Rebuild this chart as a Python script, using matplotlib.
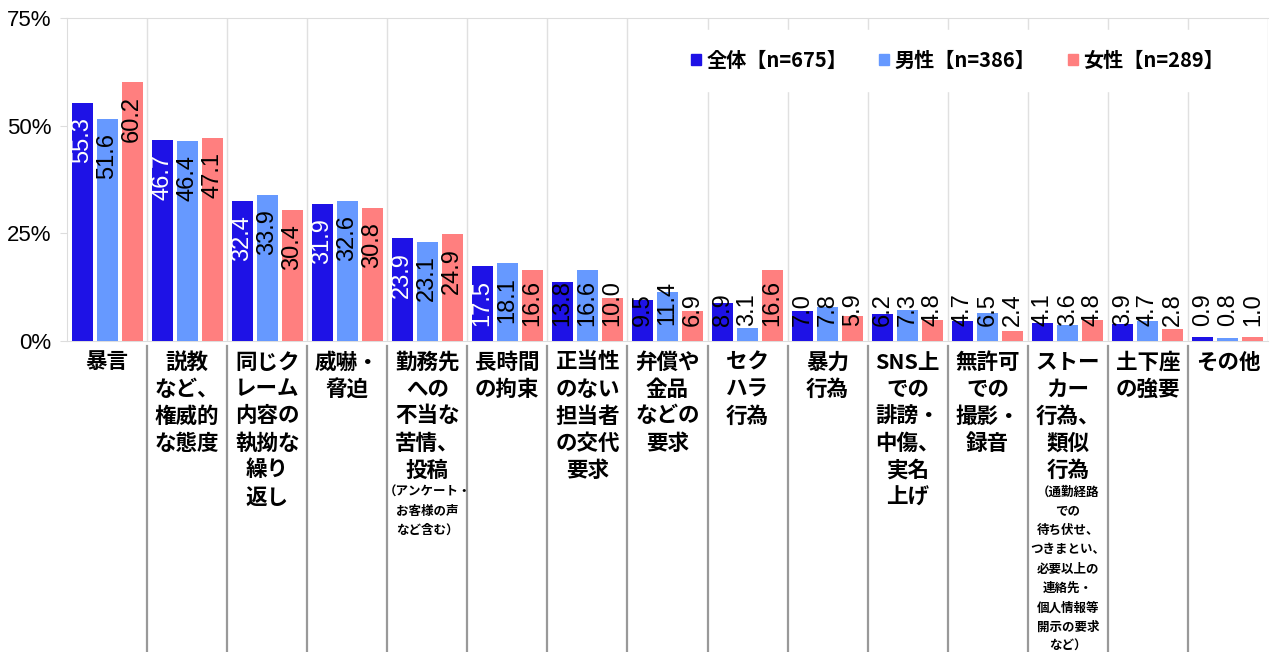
import matplotlib.pyplot as plt
import matplotlib.transforms as mtransforms
from matplotlib.patches import Patch
import numpy as np

# データ（%）
categories = ["暴言", "説教など、権威的な態度", "同じクレーム内容の執拗な繰り返し", "威嚇・脅迫",
              "勤務先への不当な苦情、投稿", "長時間の拘束", "正当性のない担当者の交代要求",
              "弁償や金品などの要求", "セクハラ行為", "暴力行為", "SNS上での誹謗・中傷、実名上げ",
              "無許可での撮影・録音", "ストーカー行為、類似行為", "土下座の強要", "その他"]
label_lines = [
    ["暴言"],
    ["説教", "など、", "権威的", "な態度"],
    ["同じク", "レーム", "内容の", "執拗な", "繰り", "返し"],
    ["威嚇・", "脅迫"],
    ["勤務先", "への", "不当な", "苦情、", "投稿"],
    ["長時間", "の拘束"],
    ["正当性", "のない", "担当者", "の交代", "要求"],
    ["弁償や", "金品", "などの", "要求"],
    ["セク", "ハラ", "行為"],
    ["暴力", "行為"],
    ["SNS上", "での", "誹謗・", "中傷、", "実名", "上げ"],
    ["無許可", "での", "撮影・", "録音"],
    ["ストー", "カー", "行為、", "類似", "行為"],
    ["土下座", "の強要"],
    ["その他"],
]
note_lines = {
    4: ["（アンケート・", "お客様の声", "など含む）"],
    12: ["（通勤経路", "での", "待ち伏せ、", "つきまとい、", "必要以上の", "連絡先・",
         "個人情報等", "開示の要求", "など）"],
}
series_names = ["全体【n=675】", "男性【n=386】", "女性【n=289】"]
zentai = [55.3, 46.7, 32.4, 31.9, 23.9, 17.5, 13.8, 9.5, 8.9, 7.0, 6.2, 4.7, 4.1, 3.9, 0.9]
dansei = [51.6, 46.4, 33.9, 32.6, 23.1, 18.1, 16.6, 11.4, 3.1, 7.8, 7.3, 6.5, 3.6, 4.7, 0.8]
josei = [60.2, 47.1, 30.4, 30.8, 24.9, 16.6, 10.0, 6.9, 16.6, 5.9, 4.8, 2.4, 4.8, 2.8, 1.0]

colors = ["#1e12e6", "#6699ff", "#ff7f7f"]
jp = ["Noto Sans CJK JP", "DejaVu Sans"]

W, H = 1273, 652
fig = plt.figure(figsize=(W / 100, H / 100), dpi=100)
ax = fig.add_axes([67 / W, 1 - 341 / H, 1201 / W, 323 / H])

x = np.arange(len(categories))
offsets = [-0.3125, 0.0, 0.3125]
width = 0.2625
ymax = 75
px_per_unit = 323 / ymax
fs_val = 17
em_px = fs_val * 100 / 72

for s, vals in enumerate([zentai, dansei, josei]):
    ax.bar(x + offsets[s], vals, width, color=colors[s], zorder=3)
    for xi, v in zip(x, vals):
        txt = "{:.1f}".format(v)
        L = (0.556 * (len(txt) - 1) + 0.278) * em_px / px_per_unit
        yc = v - 37 / px_per_unit
        if yc - L / 2 < 3.5:
            yc = 3.5 + L / 2
        inside = yc + L / 2 <= v
        col = "white" if (s == 0 and inside) else "black"
        ax.text(xi + offsets[s], yc, txt, rotation=90, ha="center", va="center",
                fontsize=fs_val, family="Liberation Sans", color=col, zorder=4)

ax.set_xlim(-0.5, len(categories) - 0.5)
ax.set_ylim(0, ymax)
ax.set_yticks([0, 25, 50, 75])
ax.set_yticklabels(["0%", "25%", "50%", "75%"], fontsize=16,
                   family=["Liberation Sans Narrow", "Liberation Sans"])
ax.set_xticks([])
ax.tick_params(axis="y", length=5, color="#dddddd", pad=6)
for sp in ax.spines.values():
    sp.set_color("#dddddd")
ax.spines["right"].set_visible(False)

# 縦の区切り線
for b in np.arange(0.5, len(categories) - 0.5):
    ax.axvline(b, color="#e0e0e0", lw=1, zorder=1)
ax.axvline(len(categories) - 0.5, color="#e0e0e0", lw=1, zorder=1)

trans = mtransforms.blended_transform_factory(ax.transData, ax.transAxes)
for b in np.arange(0.5, len(categories) - 0.5):
    ax.plot([b, b], [-0.015, -0.97], color="#999999", lw=1.6, transform=trans,
            clip_on=False)

# カテゴリラベル
pt = 72 / 100
for i, lines in enumerate(label_lines):
    for j, line in enumerate(lines):
        ax.annotate(line, xy=(i, 0), xycoords=trans, xytext=(0, -(21 + 27 * j) * pt),
                    textcoords="offset points", ha="center", va="center",
                    fontsize=15.5, fontweight="bold", family=jp)
    if i in note_lines:
        start = 21 + 27 * (len(lines) - 1) + 22
        for k, line in enumerate(note_lines[i]):
            ax.annotate(line, xy=(i, 0), xycoords=trans,
                        xytext=(0, -(start + 19.3 * k) * pt),
                        textcoords="offset points", ha="center", va="center",
                        fontsize=9, fontweight="bold", family=jp)

handles = [Patch(color=c) for c in colors]
leg = ax.legend(handles, series_names, ncol=3, loc="upper right",
                bbox_to_anchor=(0.988, 0.995), frameon=True, fancybox=False,
                framealpha=1, edgecolor="white", facecolor="white",
                handlelength=0.5, handleheight=0.5, handletextpad=0.25,
                columnspacing=1.6, borderpad=1.0,
                prop={"family": jp, "weight": "bold", "size": 14.5})
leg.set_zorder(5)

fig.savefig("out.png", dpi=100)
